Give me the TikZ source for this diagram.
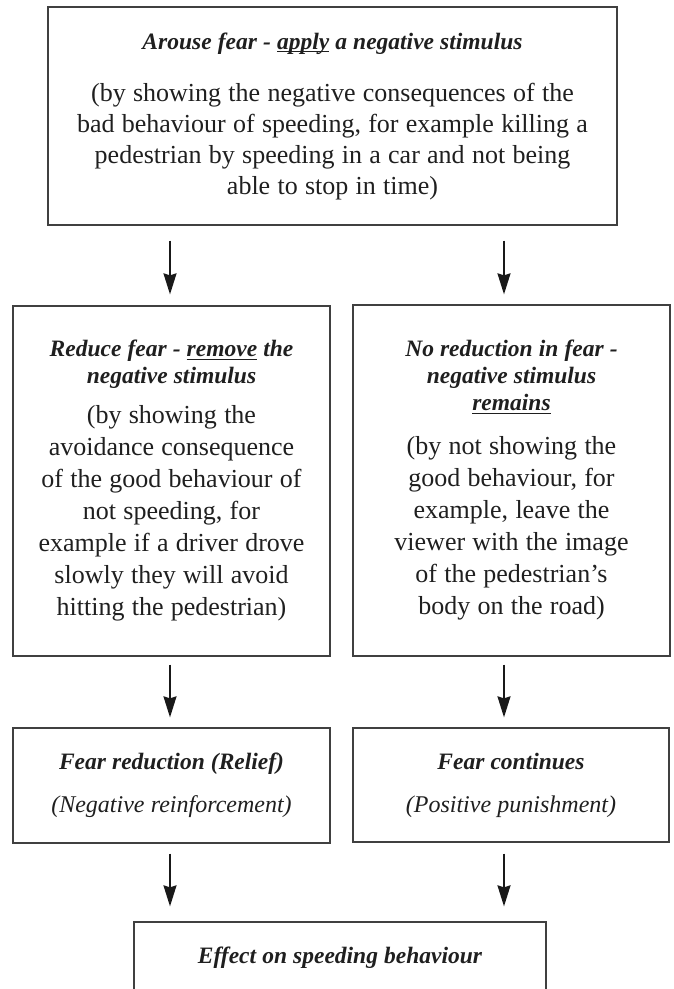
\documentclass[tikz,border=0pt]{standalone}
\usepackage{fontspec}
\setmainfont{Liberation Serif}
\usetikzlibrary{arrows.meta}

\NewDocumentCommand{\undl}{m}{%
\leavevmode\setbox0\hbox{#1}\rlap{\rule[-3pt]{\wd0}{1pt}}\box0\relax%
}
\NewDocumentCommand{\headtxt}{}{\fontsize{23.5}{27}\selectfont\bfseries\itshape\spaceskip=0.26em\relax}
\NewDocumentCommand{\subtxt}{}{\fontsize{24}{28}\selectfont\itshape\spaceskip=0.26em\relax}
\NewDocumentCommand{\bodytxt}{}{\fontsize{26}{31}\selectfont\spaceskip=0.28em\relax}

\begin{document}
\begin{tikzpicture}[x=1pt,y=-1pt,
    box/.style={draw=black!75,line width=1.3pt,rectangle,align=center,inner sep=0pt,text=black!88},
    flow/.style={-{Stealth[length=21pt,width=13pt,inset=2pt]},line width=1.8pt,black!90}]
\useasboundingbox (0,0) rectangle (673,989);
\clip (0,0) rectangle (673,989);

\node[box,minimum width=569,minimum height=218,text width=562] (arouse) at (332.5,116)
    {\vspace{12pt}{\headtxt Arouse fear - \undl{apply} a negative stimulus\par}\vspace{9pt}%
     {\bodytxt (by showing the negative consequences of the\\
     bad behaviour of speeding, for example killing a\\
     pedestrian by speeding in a car and not being\\
     able to stop in time)\par}};

\node[box,minimum width=317,minimum height=350,text width=310] (lmid) at (171.5,481)
    {{\headtxt Reduce fear - \undl{remove} the\\ negative stimulus\par}\vspace{8pt}%
     {\bodytxt\baselineskip=32pt (by showing the\\ avoidance consequence\\ of the good behaviour of\\
     not speeding, for\\ example if a driver drove\\ slowly they will avoid\\
     hitting the pedestrian)\par}};
\node[box,minimum width=317,minimum height=351,text width=310] (rmid) at (511.5,480.5)
    {{\headtxt No reduction in fear -\\ negative stimulus\\ \undl{remains}\par}\vspace{12pt}%
     {\bodytxt\baselineskip=32pt (by not showing the\\ good behaviour, for\\ example, leave the\\
     viewer with the image\\ of the pedestrian's\\ body on the road)\par}};

\node[box,minimum width=317,minimum height=115,text width=310] (lres) at (171.5,785.5)
    {{\headtxt Fear reduction (Relief)\par}\vspace{15pt}%
     {\subtxt (Negative reinforcement)\par}};
\node[box,minimum width=316,minimum height=114,text width=310] (rres) at (511,785)
    {{\headtxt Fear continues\par}\vspace{15pt}%
     {\subtxt (Positive punishment)\par}};

\node[box,minimum width=412,minimum height=72,text width=400] (effect) at (340,958)
    {\headtxt Effect on speeding behaviour};

% arrow columns
\coordinate (lcol) at (170,0);
\coordinate (rcol) at (504,0);
\foreach \col in {lcol,rcol} {
  \draw[flow,shorten <=15pt,shorten >=11pt] (arouse.south -| \col) -- (\col |- lmid.north);
  \draw[flow,shorten <=8pt,shorten >=10pt] (lmid.south -| \col) -- (\col |- lres.north);
  \draw[flow,shorten <=10pt,shorten >=15pt] (lres.south -| \col) -- (\col |- effect.north);
}
\end{tikzpicture}
\end{document}
